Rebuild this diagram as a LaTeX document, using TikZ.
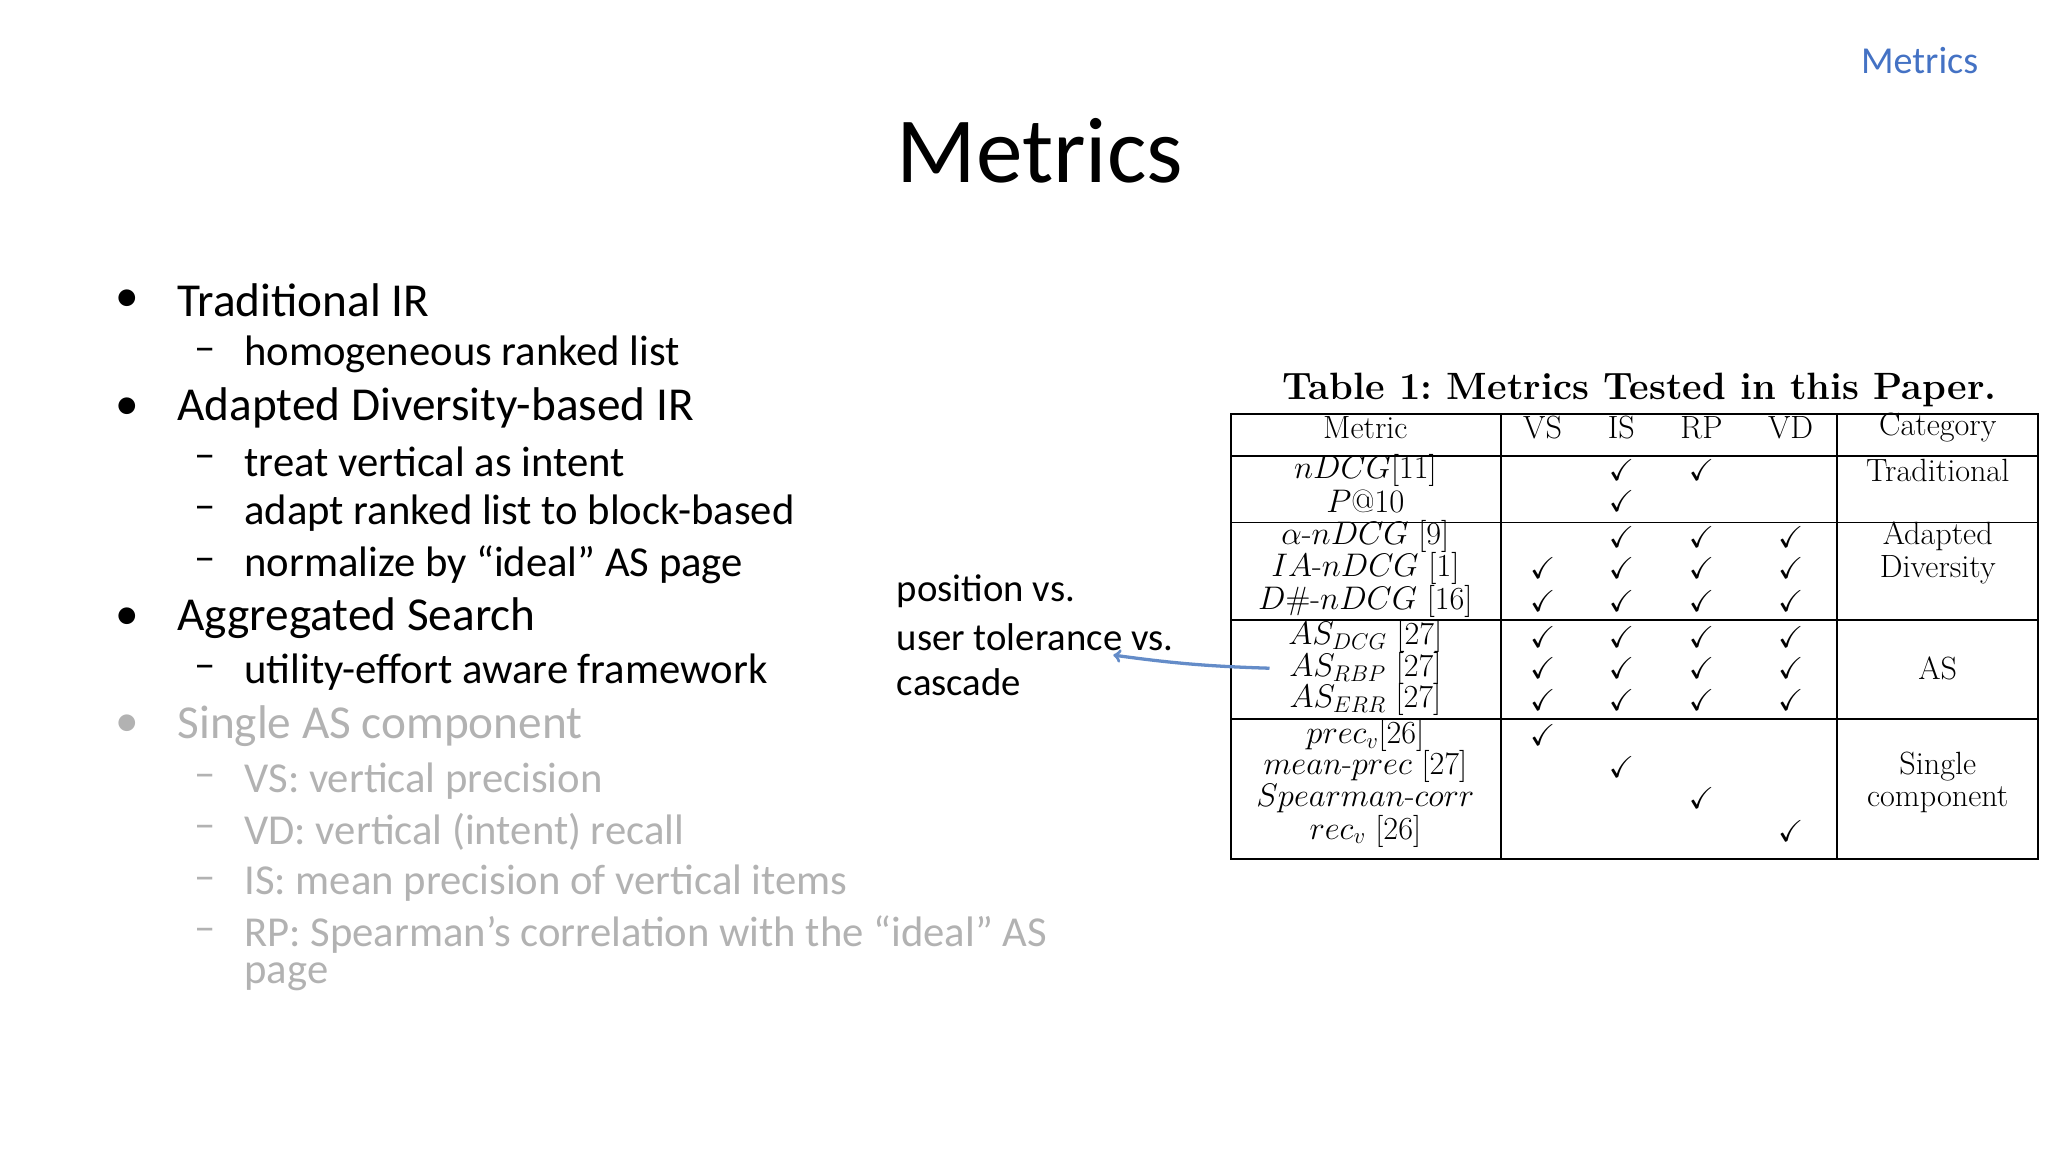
\documentclass[tikz,border=0pt]{standalone}
\usepackage{amssymb}
\usepackage{fontspec}
\newfontfamily\carl[Ligatures=TeX]{Carlito}
\begin{document}
\begin{tikzpicture}[x=1pt,y=-1pt,
  every node/.style={inner sep=0pt},
  b1/.style={anchor=west,font=\carl\fontsize{36}{40}\selectfont},
  b2/.style={anchor=west,font=\carl\fontsize{32.5}{36}\selectfont},
  gr/.style={text=black!30},
  tt/.style={font=\fontsize{24.5}{25}\selectfont},
  ck/.style={font=\fontsize{23}{25}\selectfont}]
\useasboundingbox (0,0) rectangle (1560,877.5);
\node[anchor=east,text={rgb,255:red,68;green,114;blue,196},font=\carl\fontsize{29}{32}\selectfont] (hdr) at (1507,46) {Metrics};
\node[font=\carl\fontsize{71}{76}\selectfont] (title) at (792,115) {Metrics};
% bullets
\foreach \y/\t/\g in {229/Traditional IR/, 311/Adapted Diversity-based IR/, 471/Aggregated Search/, 553/Single AS component/gr}{
  \node[b1,\g] at (88,\y) {•};
  \node[b1,\g] at (135,\y) {\t};}
\foreach \y/\t/\g in {270/homogeneous ranked list/, 352/treat vertical as intent/, 391/adapt ranked list to block-based/, 430/normalize by “ideal” AS page/, 512/utility-effort aware framework/, 595/VS: vertical precision/gr, 634/VD: vertical (intent) recall/gr, 673/IS: mean precision of vertical items/gr, 712/RP: Spearman’s correlation with the “ideal” AS/gr}{
  \node[b2,\g] at (148,\y) {–};
  \node[b2,\g] at (186,\y) {\t};}
\node[b2,gr] at (186,744) {page};
\node[b2,font=\carl\fontsize{29.5}{32}\selectfont] (p1) at (683,450) {position vs.};
\node[b2,font=\carl\fontsize{29.5}{32}\selectfont] (p2) at (683,485) {user tolerance vs.};
\node[b2,font=\carl\fontsize{29.5}{32}\selectfont] (p3) at (683,520) {cascade};
% table
\node[font=\bfseries\fontsize{29}{30}\selectfont] (cap) at (1249,297) {Table 1:\ Metrics Tested in this Paper.};
\draw[line width=1.5pt] (938,315) rectangle (1552,654);
\foreach \x in {1143,1399} \draw[line width=1.5pt] (\x,315) -- (\x,654);
\foreach \y in {347,398,472,548} \draw[line width=1.5pt] (938,\y) -- (1552,\y);
\foreach \x/\t in {1040/Metric,1175/VS,1235/IS,1296/RP,1364/VD,1476/Category} \node[tt] at (\x,326) {\t};
\foreach \y/\t in {358/{$nDCG$[11]},382/{$P@10$},409/{$\alpha$-$nDCG$ [9]},433/{$IA$-$nDCG$ [1]},458/{$D\#$-$nDCG$ [16]},485/{$AS_{DCG}$ [27]},509/{$AS_{RBP}$ [27]},533/{$AS_{ERR}$ [27]},560/{$prec_v$[26]},584/{$mean$-$prec$ [27]},608/{$Spearman$-$corr$},633/{$rec_v$ [26]}}
  \node[tt] at (1040,\y) {\t};
\foreach \x/\y in {1235/358,1296/358,1235/382,
  1235/409,1296/409,1364/409,
  1175/433,1235/433,1296/433,1364/433,
  1175/458,1235/458,1296/458,1364/458,
  1175/485,1235/485,1296/485,1364/485,
  1175/509,1235/509,1296/509,1364/509,
  1175/533,1235/533,1296/533,1364/533,
  1175/560,1235/584,1296/608,1364/633}
  \node[ck] at (\x,\y) {$\checkmark$};
\node[tt] at (1476,358) {Traditional};
\node[tt,align=center] at (1476,421) {Adapted\\Diversity};
\node[tt] at (1476,509) {AS};
\node[tt,align=center] at (1476,596) {Single\\component};
\coordinate (as) at (967,509);
\draw[->,line width=2.5pt,draw={rgb,255:red,100;green,140;blue,200}] (as) to[bend left=3] (848,499);
\end{tikzpicture}
\end{document}
